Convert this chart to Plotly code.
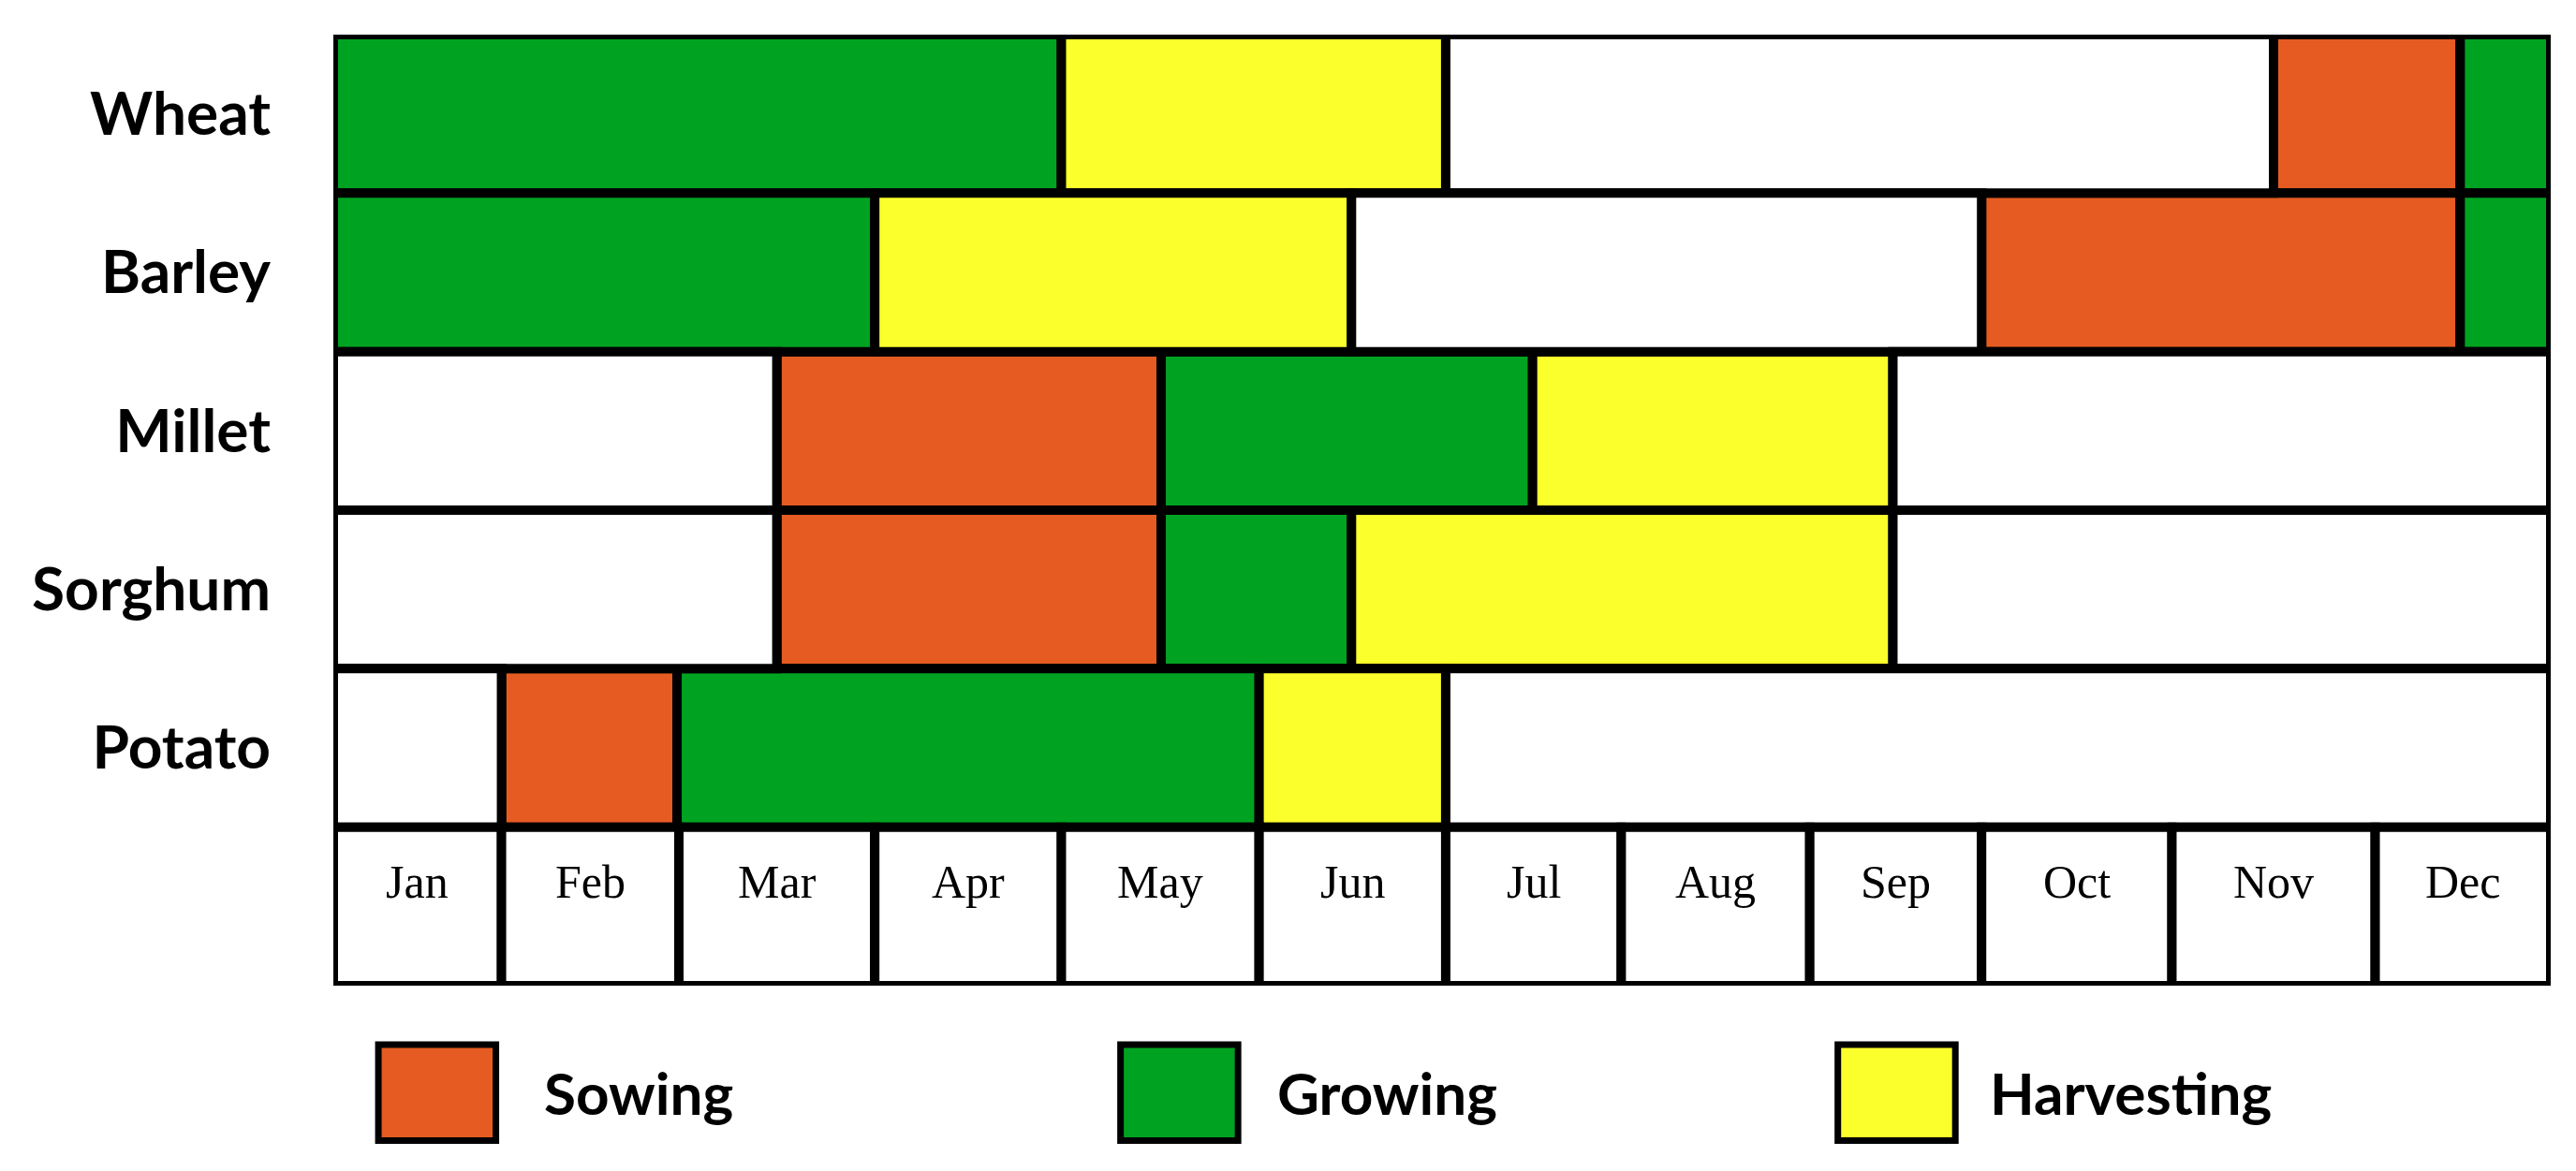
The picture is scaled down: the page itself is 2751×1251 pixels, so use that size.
import plotly.graph_objects as go

crops = ["Wheat", "Barley", "Millet", "Sorghum", "Potato"]
months = ["Jan", "Feb", "Mar", "Apr", "May", "Jun", "Jul", "Aug", "Sep", "Oct", "Nov", "Dec"]
# month cells are not drawn equally wide in the original, so keep their edges (in months)
month_edges = [0, 0.91, 1.87, 2.93, 3.94, 5.01, 6.02, 6.97, 7.99, 8.92, 9.95, 11.05, 12]

# stage sequence and segment edges (in months) for each crop row
wheat_stages = ["Growing", "Harvesting", "None", "Sowing", "Growing"]
wheat_edges = [0, 3.94, 6.02, 10.50, 11.51, 12]
barley_stages = ["Growing", "Harvesting", "None", "Sowing", "Growing"]
barley_edges = [0, 2.93, 5.51, 8.92, 11.51, 12]
millet_stages = ["None", "Sowing", "Growing", "Harvesting", "None"]
millet_edges = [0, 2.40, 4.48, 6.49, 8.44, 12]
sorghum_stages = ["None", "Sowing", "Growing", "Harvesting", "None"]
sorghum_edges = [0, 2.40, 4.48, 5.51, 8.44, 12]
potato_stages = ["None", "Sowing", "Growing", "Harvesting", "None"]
potato_edges = [0, 0.91, 1.86, 5.01, 6.02, 12]

stages = ["Sowing", "Growing", "Harvesting"]
stage_colors = {"Sowing": "#E55B22", "Growing": "#00A321", "Harvesting": "#FBFF2C", "None": "#FFFFFF"}

rows = [
    (wheat_stages, wheat_edges),
    (barley_stages, barley_edges),
    (millet_stages, millet_edges),
    (sorghum_stages, sorghum_edges),
    (potato_stages, potato_edges),
]

# collect segments per stage so each stage is one trace
segs = {k: {"y": [], "base": [], "x": []} for k in stage_colors}
for i, (st, ed) in enumerate(rows):
    for j, s in enumerate(st):
        segs[s]["y"].append(i)
        segs[s]["base"].append(ed[j])
        segs[s]["x"].append(ed[j + 1] - ed[j])

fig = go.Figure()
LINE = 10
for s, d in segs.items():
    fig.add_trace(go.Bar(
        y=d["y"], x=d["x"], base=d["base"], orientation="h", width=1,
        marker=dict(color=stage_colors[s], line=dict(color="black", width=LINE)),
        cliponaxis=False, showlegend=False, hoverinfo="skip",
    ))

# month row underneath the crops
month_row = len(crops)
fig.add_trace(go.Bar(
    y=[month_row] * len(months),
    x=[month_edges[k + 1] - month_edges[k] for k in range(len(months))],
    base=month_edges[:-1], orientation="h", width=1,
    marker=dict(color="white", line=dict(color="black", width=LINE)),
    cliponaxis=False, showlegend=False, hoverinfo="skip",
))
for k, m in enumerate(months):
    fig.add_annotation(
        x=(month_edges[k] + month_edges[k + 1]) / 2, y=month_row, text=m,
        showarrow=False, yshift=26,
        font=dict(family="Liberation Serif", size=50, color="black"),
    )

# legend drawn by hand underneath
legend_x = [0.0203, 0.355, 0.6785]
text_x = [0.0940, 0.425, 0.746]
for k, s in enumerate(stages):
    fig.add_shape(type="rect", xref="paper", yref="paper",
                  x0=legend_x[k], x1=legend_x[k] + 0.053, y0=-0.163, y1=-0.062,
                  fillcolor=stage_colors[s], line=dict(color="black", width=7))
    fig.add_annotation(xref="paper", yref="paper", x=text_x[k], y=-0.112, text=s,
                       showarrow=False, xanchor="left", yanchor="middle",
                       font=dict(family="Lato", size=62, color="black", weight="bold"))

fig.update_layout(
    width=2751, height=1251,
    margin=dict(l=348, r=35, t=29, b=206),
    barmode="overlay",
    plot_bgcolor="white", paper_bgcolor="white",
    xaxis=dict(range=[0, 12], visible=False, fixedrange=True),
    yaxis=dict(
        range=[month_row + 0.5, -0.5],
        tickmode="array", tickvals=list(range(len(crops))), ticktext=crops,
        tickfont=dict(family="Lato", size=64, color="black", weight="bold"),
        ticklabelstandoff=66, showgrid=False, zeroline=False, showline=False, ticks="",
    ),
)

fig.write_html("out.html")
